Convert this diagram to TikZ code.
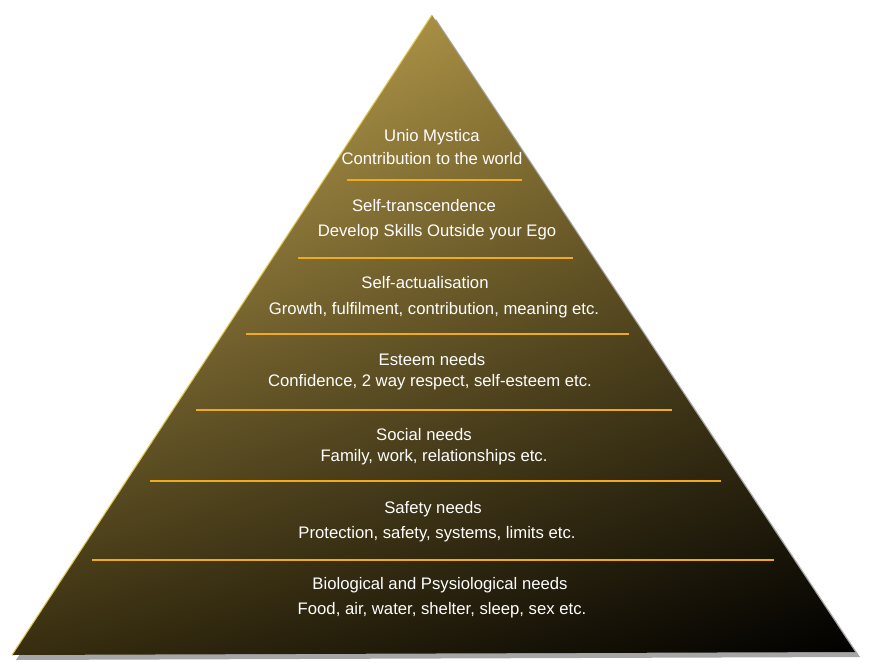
\documentclass[tikz,border=0pt]{standalone}
\usepackage{fontspec}
\setmainfont{Liberation Sans}
\usetikzlibrary{shadings}
\definecolor{pyrgold}{RGB}{215,185,95}
\definecolor{pyrmid}{RGB}{120,100,40}
\definecolor{pyrdark}{RGB}{55,45,15}
\definecolor{pyrline}{RGB}{240,170,30}
\tikzset{
  level/.style={color=white,font=\fontsize{9.5}{11}\selectfont,align=center},
  sep/.style={color=pyrline,line width=1.1pt}
}
\begin{document}
\begin{tikzpicture}[x=0.02cm,y=-0.02cm]
			\useasboundingbox (0,0) rectangle (871,662);
			\coordinate (apex) at (432,15);
			\coordinate (bl) at (12,655);
			\coordinate (br) at (855,652);
			
			\fill [black!35] (436,19) -- (860,657) -- (16,660) -- cycle;
			\shade [upper left=pyrgold,upper right=pyrmid,lower left=pyrdark,lower right=black] (apex) -- (br) -- (bl) -- cycle;
			\draw [color=pyrgold!80!yellow,line width=0.6pt] (bl) -- (apex);
			
			\draw [sep] (347,180) -- (522,180);
			\draw [sep] (298,258) -- (573,258);
			\draw [sep] (246,334) -- (629,334);
			\draw [sep] (196,410) -- (672,410);
			\draw [sep] (150,481) -- (721,481);
			\draw [sep] (92,560) -- (774,560);
			
			\node [level] (t7) at (432,137) {Unio Mystica};
			\node [level] (d7) at (432,159) {Contribution to the world};
			\node [level] (t6) at (424,206) {Self-transcendence};
			\node [level] (d6) at (437,232) {Develop Skills Outside your Ego};
			\node [level] (t5) at (425,283) {Self-actualisation};
			\node [level] (d5) at (434,310) {Growth, fulfilment, contribution, meaning etc.};
			\node [level] (t4) at (432,360) {Esteem needs};
			\node [level] (d4) at (430,382) {Confidence, 2 way respect, self-esteem etc.};
			\node [level] (t3) at (424,435) {Social needs};
			\node [level] (d3) at (434,457) {Family, work, relationships etc.};
			\node [level] (t2) at (433,509) {Safety needs};
			\node [level] (d2) at (437,534) {Protection, safety, systems, limits etc.};
			\node [level] (t1) at (440,585) {Biological and Psysiological needs};
			\node [level] (d1) at (442,610) {Food, air, water, shelter, sleep, sex etc.};
		\end{tikzpicture}
\end{document}
